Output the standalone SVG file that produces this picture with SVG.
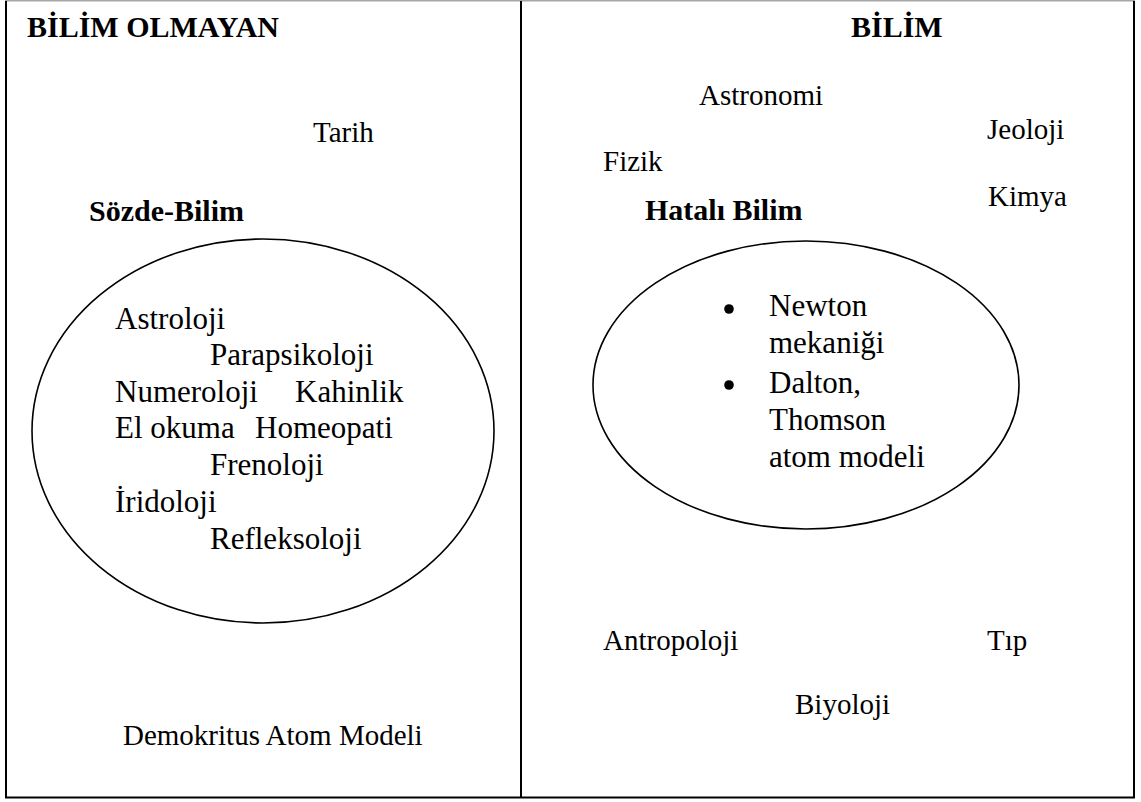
<svg xmlns="http://www.w3.org/2000/svg" width="1141" height="802" viewBox="0 0 1141 802">
  <style>
    .frame { fill: none; stroke: #000; stroke-width: 2; }
    .edge-top { stroke: #a6a6a6; stroke-width: 1.5; }
    .oval { fill: none; stroke: #000; stroke-width: 1.6; }
    .t { font-family: "Liberation Serif", "Times New Roman", serif; font-size: 29px; fill: #000; }
    .in { font-family: "Liberation Serif", "Times New Roman", serif; font-size: 31px; fill: #000; }
    .h { font-family: "Liberation Serif", "Times New Roman", serif; font-size: 30px; font-weight: bold; fill: #000; }
  </style>
  <rect width="1141" height="802" fill="#fff"/>

  <!-- outer frame and column divider -->
  <g id="frame">
    <line class="edge-top" x1="5" y1="0.75" x2="1135" y2="0.75"/>
    <line class="frame" x1="6" y1="1" x2="6" y2="798"/>
    <line class="frame" x1="1134" y1="1" x2="1134" y2="798"/>
    <line class="frame" x1="5" y1="797.5" x2="1135" y2="797.5"/>
    <line class="frame" x1="521" y1="1" x2="521" y2="797"/>
  </g>

  <!-- left column: non-science -->
  <g id="non-science">
    <text class="h" x="27" y="37">BİLİM OLMAYAN</text>
    <text class="t" x="313" y="142">Tarih</text>
    <text class="t" x="123" y="745">Demokritus Atom Modeli</text>
  </g>

  <g id="pseudo-science">
    <text class="h" x="89" y="221">Sözde-Bilim</text>
    <ellipse class="oval" cx="263" cy="431" rx="231" ry="192"/>
    <text class="in" x="115" y="329">Astroloji</text>
    <text class="in" x="210" y="365">Parapsikoloji</text>
    <text class="in" x="115" y="402">Numeroloji</text>
    <text class="in" x="295" y="402">Kahinlik</text>
    <text class="in" x="115" y="438">El okuma</text>
    <text class="in" x="255" y="438">Homeopati</text>
    <text class="in" x="210" y="475">Frenoloji</text>
    <text class="in" x="115" y="512">İridoloji</text>
    <text class="in" x="210" y="549">Refleksoloji</text>
  </g>

  <!-- right column: science -->
  <g id="science">
    <text class="h" x="851" y="37">BİLİM</text>
    <text class="t" x="699" y="105">Astronomi</text>
    <text class="t" x="987" y="139">Jeoloji</text>
    <text class="t" x="603" y="171">Fizik</text>
    <text class="t" x="988" y="206">Kimya</text>
    <text class="t" x="603" y="650">Antropoloji</text>
    <text class="t" x="987" y="650">Tıp</text>
    <text class="t" x="795" y="714">Biyoloji</text>
  </g>

  <g id="faulty-science">
    <text class="h" x="645" y="220">Hatalı Bilim</text>
    <ellipse class="oval" cx="806" cy="385" rx="213" ry="144"/>
    <circle cx="729" cy="309" r="4.8"/>
    <text class="in" x="769" y="316">Newton</text>
    <text class="in" x="769" y="353">mekaniği</text>
    <circle cx="729" cy="385" r="4.8"/>
    <text class="in" x="769" y="393">Dalton,</text>
    <text class="in" x="769" y="430">Thomson</text>
    <text class="in" x="769" y="467">atom modeli</text>
  </g>
</svg>
